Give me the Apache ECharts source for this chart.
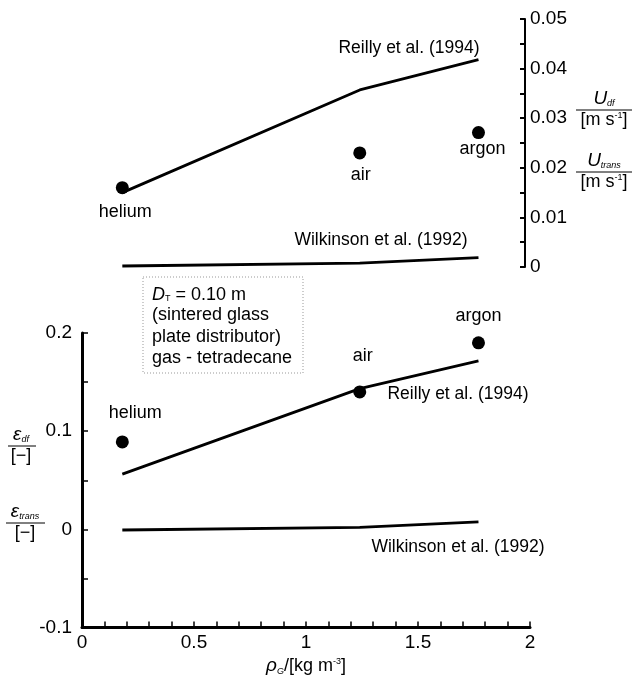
<!DOCTYPE html>
<html>
<head>
<meta charset="utf-8">
<script src="https://cdn.jsdelivr.net/npm/echarts@6/dist/echarts.min.js"></script>
<style>
  html, body { margin: 0; padding: 0; background: #fff; }
  #main { width: 634px; height: 683px; }
</style>
</head>
<body>
<div id="main"></div>
<script>
// gas densities (kg/m3) for helium, air, argon
const gases = ['helium', 'air', 'argon']
const rhoG = [0.18, 1.24, 1.77]

// top panel: velocities (m/s)
const uMeasured = [0.016, 0.023, 0.0271]
const uReilly = [0.015, 0.0357, 0.0418]
const uWilkinson = [0.0002, 0.0008, 0.0019]

// bottom panel: gas holdup (-)
const epsMeasured = [0.089, 0.140, 0.190]
const epsReilly = [0.0563, 0.1434, 0.1715]
const epsWilkinson = [-0.0007, 0.002, 0.0075]

const FONT = 'Liberation Sans'
const pairs = (xs, ys) => xs.map((x, i) => [x, ys[i]])

const chart = echarts.init(document.getElementById('main'))

const lineStyle = { color: '#000', width: 2.8 }
const lineSeries = (name, idx, ys) => ({
  name: name,
  type: 'line',
  xAxisIndex: idx,
  yAxisIndex: idx,
  data: pairs(rhoG, ys),
  showSymbol: false,
  symbol: 'none',
  lineStyle: lineStyle,
  silent: true,
  z: 3
})

const topOffsets = [[3, 24], [1, 22], [4, 16]]
const botOffsets = [[13, -29], [3, -36], [0, -27]]
const dotSeries = (idx, ys, offsets) => ({
  type: 'scatter',
  xAxisIndex: idx,
  yAxisIndex: idx,
  symbolSize: 13,
  itemStyle: { color: '#000', opacity: 1 },
  data: pairs(rhoG, ys).map((p, i) => ({
    value: p,
    label: { offset: offsets[i] }
  })),
  label: {
    show: true,
    position: 'inside',
    color: '#000',
    fontFamily: FONT,
    fontSize: 18,
    formatter: p => gases[p.dataIndex]
  },
  z: 4
})

const txt = (x, y, text, extra) => ({
  type: 'text',
  x: x,
  y: y,
  style: Object.assign({
    text: text,
    fill: '#000',
    font: '17.5px "' + FONT + '"',
    align: 'center',
    verticalAlign: 'middle'
  }, extra || {})
})

const richBase = {
  i: { fontStyle: 'italic', fontSize: 19, fontFamily: FONT },
  s: { fontStyle: 'italic', fontSize: 9, fontFamily: FONT, verticalAlign: 'bottom', padding: [8, 0, 0, 0] },
  p: { fontSize: 9, fontFamily: FONT, padding: [0, 0, 8, 0] },
  n: { fontSize: 18, fontFamily: FONT }
}

const fraction = (cx, lineY, x1, x2, num, den) => ([
  {
    type: 'text', x: cx, y: lineY - 2,
    style: { text: num, rich: richBase, fill: '#000', align: 'center', verticalAlign: 'bottom' }
  },
  {
    type: 'line',
    shape: { x1: x1, y1: lineY, x2: x2, y2: lineY },
    style: { stroke: '#000', lineWidth: 1 }
  },
  {
    type: 'text', x: cx, y: lineY + 1,
    style: { text: den, rich: richBase, fill: '#000', align: 'center', verticalAlign: 'top' }
  }
])

const option = {
  backgroundColor: '#fff',
  animation: false,
  textStyle: { fontFamily: FONT, color: '#000' },
  grid: [
    { left: 82, right: 104, top: 19, height: 248 },
    { left: 82, right: 104, top: 333, height: 294.5 }
  ],
  xAxis: [
    { gridIndex: 0, type: 'value', min: 0, max: 2, show: false },
    {
      gridIndex: 1, type: 'value', min: 0, max: 2, interval: 0.5,
      axisLine: { onZero: false, lineStyle: { color: '#000', width: 3 } },
      axisTick: { inside: true, length: 6, lineStyle: { color: '#000', width: 1.5 } },
      minorTick: { show: true, splitNumber: 5, length: 6, lineStyle: { color: '#000', width: 1.5 } },
      splitLine: { show: false },
      axisLabel: { color: '#000', fontSize: 19, fontFamily: FONT, margin: 6 },
      name: '{i|ρ}{s|G}{n|/[kg m}{p|-3}{n|]}',
      nameLocation: 'middle',
      nameGap: 29,
      nameTextStyle: { rich: richBase }
    }
  ],
  yAxis: [
    {
      gridIndex: 0, type: 'value', position: 'right', offset: -5,
      min: 0, max: 0.05, interval: 0.01,
      axisLine: { show: true, onZero: false, lineStyle: { color: '#000', width: 2 } },
      axisTick: { show: true, inside: true, length: 5, lineStyle: { color: '#000', width: 2 } },
      minorTick: { show: true, splitNumber: 2, length: 5, lineStyle: { color: '#000', width: 2 } },
      splitLine: { show: false },
      axisLabel: { color: '#000', fontSize: 19, fontFamily: FONT, margin: 5 }
    },
    {
      gridIndex: 1, type: 'value', position: 'left',
      min: -0.1, max: 0.2, interval: 0.1,
      axisLine: { show: true, onZero: false, lineStyle: { color: '#000', width: 3 } },
      axisTick: { show: true, inside: true, length: 6, lineStyle: { color: '#000', width: 1.5 } },
      minorTick: { show: true, splitNumber: 2, length: 6, lineStyle: { color: '#000', width: 1.5 } },
      splitLine: { show: false },
      axisLabel: { color: '#000', fontSize: 19, fontFamily: FONT, margin: 10 }
    }
  ],
  series: [
    lineSeries('Reilly et al. (1994)', 0, uReilly),
    lineSeries('Wilkinson et al. (1992)', 0, uWilkinson),
    dotSeries(0, uMeasured, topOffsets),
    lineSeries('Reilly et al. (1994)', 1, epsReilly),
    lineSeries('Wilkinson et al. (1992)', 1, epsWilkinson),
    dotSeries(1, epsMeasured, botOffsets)
  ],
  graphic: [
    txt(409, 48, 'Reilly et al. (1994)'),
    txt(381, 240, 'Wilkinson et al. (1992)'),
    txt(458, 394, 'Reilly et al. (1994)'),
    txt(458, 547, 'Wilkinson et al. (1992)'),
    {
      type: 'rect',
      shape: { x: 143, y: 277, width: 160, height: 96 },
      style: { fill: 'none', stroke: '#999', lineWidth: 1, lineDash: [1, 2] }
    },
    {
      type: 'text', x: 152, y: 295,
      style: {
        text: '{i|D}{s|T}{n| = 0.10 m}',
        rich: {
          i: { fontStyle: 'italic', fontSize: 18, fontFamily: FONT },
          s: { fontSize: 9, fontFamily: FONT, padding: [8, 0, 0, 0] },
          n: { fontSize: 18, fontFamily: FONT }
        },
        fill: '#000', align: 'left', verticalAlign: 'middle'
      }
    },
    txt(152, 315.5, '(sintered glass', { align: 'left', font: '18px "' + FONT + '"' }),
    txt(152, 337, 'plate distributor)', { align: 'left', font: '18px "' + FONT + '"' }),
    txt(152, 358, 'gas - tetradecane', { align: 'left', font: '18px "' + FONT + '"' })
  ]
    .concat(fraction(604, 110, 576, 632, '{i|U}{s|df}', '{n|[m s}{p|-1}{n|]}'))
    .concat(fraction(604, 172, 576, 632, '{i|U}{s|trans}', '{n|[m s}{p|-1}{n|]}'))
    .concat(fraction(21, 446, 8, 36, '{i|ε}{s|df}', '{n|[−]}'))
    .concat(fraction(25, 523, 6, 45, '{i|ε}{s|trans}', '{n|[−]}'))
}

chart.setOption(option)
</script>
</body>
</html>
